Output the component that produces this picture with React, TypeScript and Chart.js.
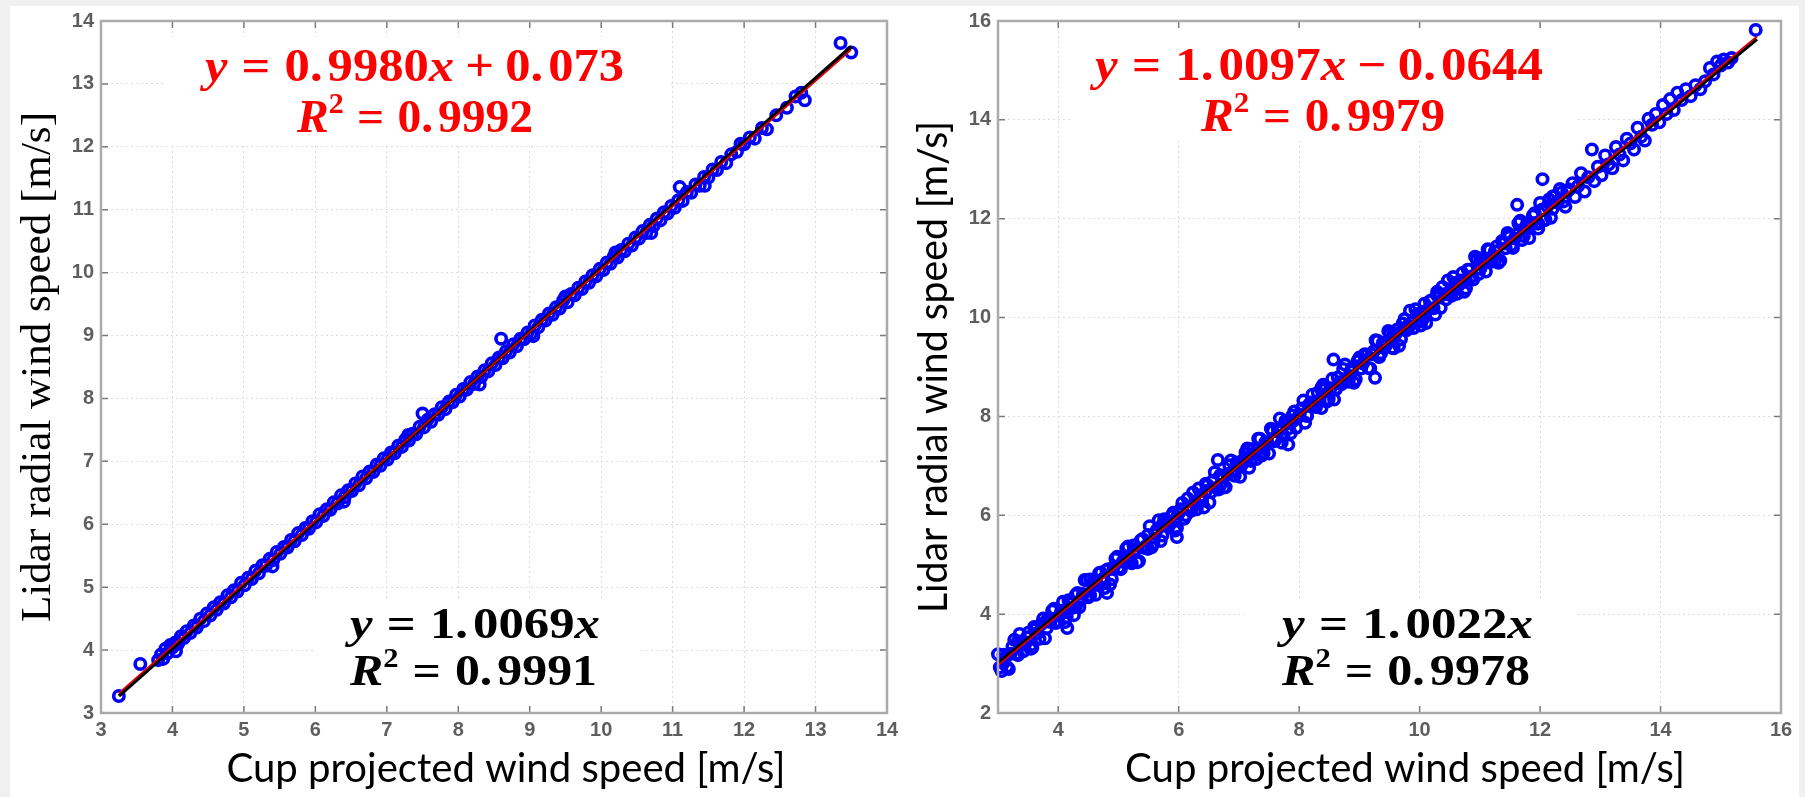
import React, { useEffect, useRef } from "react";
import { Chart, registerables } from "chart.js";

Chart.register(...registerables);

type Pair = [number, number];

// Cup projected speed (x) against lidar radial speed (y), first campaign
const leftSamples: Pair[] = [
  [3.25, 3.27], [3.55, 3.78], [3.80, 3.84], [3.84, 3.93], [3.87, 3.86], [3.90, 4.02], [3.93, 3.95], [3.97, 4.08],
  [4.00, 4.04], [4.04, 4.12], [4.05, 3.98], [4.08, 4.10], [4.12, 4.22], [4.16, 4.19], [4.20, 4.30], [4.25, 4.27],
  [4.30, 4.39], [4.34, 4.36], [4.39, 4.50], [4.44, 4.46], [4.48, 4.58], [4.53, 4.55], [4.58, 4.68], [4.62, 4.64],
  [4.67, 4.76], [4.72, 4.74], [4.77, 4.87], [4.82, 4.84], [4.86, 4.95], [4.91, 4.93], [4.96, 5.07], [5.01, 5.03],
  [5.06, 5.15], [5.11, 5.13], [5.16, 5.26], [5.21, 5.22], [5.26, 5.35], [5.31, 5.34], [5.36, 5.45], [5.40, 5.33],
  [5.41, 5.43], [5.46, 5.56], [5.51, 5.53], [5.56, 5.64], [5.61, 5.63], [5.66, 5.75], [5.71, 5.73], [5.76, 5.86],
  [5.81, 5.83], [5.86, 5.94], [5.91, 5.93], [5.96, 6.05], [6.01, 6.03], [6.06, 6.16], [6.11, 6.13], [6.16, 6.24],
  [6.21, 6.23], [6.26, 6.35], [6.31, 6.33], [6.36, 6.46], [6.40, 6.36], [6.41, 6.43], [6.46, 6.54], [6.51, 6.53],
  [6.56, 6.65], [6.61, 6.62], [6.66, 6.76], [6.71, 6.73], [6.76, 6.84], [6.81, 6.83], [6.86, 6.95], [6.91, 6.93],
  [6.96, 7.05], [7.01, 7.03], [7.06, 7.14], [7.11, 7.13], [7.16, 7.25], [7.21, 7.23], [7.26, 7.35], [7.30, 7.42],
  [7.31, 7.33], [7.36, 7.44], [7.41, 7.43], [7.46, 7.55], [7.50, 7.76], [7.52, 7.54], [7.57, 7.66], [7.62, 7.63],
  [7.67, 7.75], [7.72, 7.74], [7.77, 7.86], [7.82, 7.83], [7.87, 7.95], [7.92, 7.94], [7.97, 8.06], [8.02, 8.03],
  [8.07, 8.15], [8.12, 8.14], [8.17, 8.26], [8.22, 8.23], [8.27, 8.35], [8.30, 8.22], [8.32, 8.34], [8.37, 8.45],
  [8.42, 8.43], [8.47, 8.56], [8.52, 8.53], [8.57, 8.65], [8.60, 8.95], [8.62, 8.64], [8.67, 8.75], [8.72, 8.73],
  [8.77, 8.86], [8.82, 8.83], [8.87, 8.95], [8.92, 8.94], [8.97, 9.05], [9.02, 9.03], [9.05, 8.99], [9.07, 9.16],
  [9.12, 9.13], [9.17, 9.25], [9.22, 9.24], [9.27, 9.35], [9.32, 9.33], [9.37, 9.45], [9.42, 9.43], [9.47, 9.56],
  [9.50, 9.62], [9.53, 9.53], [9.58, 9.66], [9.63, 9.64], [9.68, 9.76], [9.73, 9.74], [9.78, 9.86], [9.83, 9.84],
  [9.88, 9.96], [9.93, 9.94], [9.98, 10.06], [10.03, 10.04], [10.08, 10.16], [10.13, 10.14], [10.18, 10.26],
  [10.20, 10.32], [10.23, 10.24], [10.28, 10.36], [10.33, 10.34], [10.38, 10.46], [10.43, 10.43], [10.48, 10.56],
  [10.53, 10.54], [10.58, 10.66], [10.63, 10.63], [10.68, 10.76], [10.70, 10.63], [10.73, 10.74], [10.78, 10.86],
  [10.83, 10.83], [10.88, 10.96], [10.93, 10.94], [10.98, 11.06], [11.03, 11.03], [11.08, 11.15], [11.10, 11.36],
  [11.14, 11.14], [11.20, 11.28], [11.26, 11.27], [11.32, 11.40], [11.38, 11.38], [11.44, 11.52], [11.45, 11.38],
  [11.50, 11.51], [11.56, 11.64], [11.62, 11.63], [11.68, 11.76], [11.75, 11.74], [11.82, 11.88], [11.90, 11.92],
  [11.95, 12.05], [12.00, 12.04], [12.08, 12.15], [12.15, 12.13], [12.25, 12.30], [12.32, 12.28], [12.45, 12.50],
  [12.60, 12.62], [12.72, 12.80], [12.80, 12.86], [12.85, 12.74], [13.35, 13.65], [13.50, 13.50],
];

// Second campaign, wider spread and a longer high-speed tail
const rightSamples: Pair[] = [
  [3.00, 3.19], [3.06, 2.85], [3.09, 3.01], [3.12, 3.12], [3.18, 2.89], [3.24, 3.34], [3.30, 3.20], [3.33, 3.45],
  [3.36, 3.60], [3.42, 3.25], [3.48, 3.53], [3.54, 3.30], [3.57, 3.38], [3.60, 3.74], [3.66, 3.62], [3.72, 3.80],
  [3.78, 3.51], [3.81, 3.87], [3.84, 3.86], [3.90, 4.07], [3.96, 3.82], [4.02, 3.97], [4.05, 4.03], [4.08, 4.25],
  [4.14, 3.94], [4.15, 3.72], [4.20, 4.21], [4.26, 3.98], [4.29, 4.15], [4.32, 4.43], [4.38, 4.29], [4.44, 4.69],
  [4.50, 4.34], [4.53, 4.70], [4.56, 4.62], [4.62, 4.39], [4.68, 4.83], [4.74, 4.71], [4.77, 4.67], [4.80, 4.89],
  [4.81, 4.43], [4.86, 4.60], [4.92, 4.95], [4.98, 5.16], [5.01, 4.94], [5.04, 4.91], [5.10, 5.06], [5.16, 5.37],
  [5.22, 5.03], [5.25, 5.39], [5.28, 5.30], [5.34, 5.07], [5.40, 5.52], [5.46, 5.38], [5.49, 5.32], [5.52, 5.78],
  [5.58, 5.43], [5.64, 5.71], [5.70, 5.48], [5.73, 5.81], [5.76, 5.92], [5.82, 5.80], [5.88, 5.98], [5.94, 5.69],
  [5.97, 5.96], [5.97, 5.56], [6.00, 6.04], [6.06, 6.25], [6.12, 6.00], [6.18, 6.15], [6.21, 6.09], [6.24, 6.46],
  [6.30, 6.12], [6.36, 6.39], [6.42, 6.16], [6.45, 6.64], [6.48, 6.61], [6.54, 6.47], [6.60, 6.87], [6.65, 7.12],
  [6.66, 6.52], [6.69, 6.61], [6.72, 6.80], [6.78, 6.57], [6.84, 7.01], [6.90, 6.89], [6.93, 6.88], [6.96, 7.07],
  [7.02, 6.78], [7.08, 7.13], [7.14, 7.35], [7.17, 7.33], [7.20, 7.10], [7.26, 7.24], [7.32, 7.55], [7.38, 7.21],
  [7.41, 7.26], [7.44, 7.48], [7.50, 7.25], [7.56, 7.70], [7.62, 7.56], [7.65, 7.75], [7.68, 7.96], [7.74, 7.61],
  [7.80, 7.89], [7.82, 7.43], [7.86, 7.66], [7.89, 7.90], [7.92, 8.10], [7.98, 7.98], [8.04, 8.16], [8.10, 7.87],
  [8.13, 8.02], [8.16, 8.23], [8.22, 8.44], [8.28, 8.19], [8.34, 8.33], [8.37, 8.58], [8.40, 8.64], [8.46, 8.30],
  [8.52, 8.57], [8.57, 9.15], [8.58, 8.34], [8.61, 8.55], [8.64, 8.79], [8.70, 8.65], [8.76, 9.05], [8.82, 8.70],
  [8.85, 8.82], [8.88, 8.98], [8.94, 8.75], [9.00, 9.19], [9.06, 9.07], [9.09, 9.26], [9.12, 9.25], [9.18, 8.97],
  [9.24, 9.32], [9.26, 8.78], [9.30, 9.53], [9.33, 9.20], [9.36, 9.28], [9.42, 9.42], [9.48, 9.73], [9.54, 9.39],
  [9.57, 9.69], [9.60, 9.66], [9.66, 9.43], [9.72, 9.88], [9.78, 9.74], [9.81, 9.84], [9.84, 10.14], [9.90, 9.79],
  [9.96, 10.07], [10.02, 9.84], [10.05, 9.96], [10.08, 10.28], [10.14, 10.16], [10.20, 10.35], [10.26, 10.06],
  [10.29, 10.52], [10.32, 10.41], [10.38, 10.62], [10.44, 10.37], [10.50, 10.51], [10.53, 10.49], [10.56, 10.82],
  [10.62, 10.48], [10.68, 10.75], [10.74, 10.52], [10.77, 10.76], [10.80, 10.97], [10.86, 10.83], [10.92, 11.23],
  [10.98, 10.88], [11.01, 11.20], [11.04, 11.16], [11.10, 10.93], [11.16, 11.37], [11.22, 11.25], [11.25, 11.14],
  [11.28, 11.44], [11.34, 11.15], [11.40, 11.50], [11.46, 11.71], [11.49, 11.63], [11.52, 11.46], [11.58, 11.60],
  [11.62, 12.28], [11.64, 11.91], [11.70, 11.57], [11.73, 11.78], [11.76, 11.84], [11.82, 11.61], [11.88, 12.06],
  [11.94, 11.92], [11.97, 11.90], [12.00, 12.32], [12.04, 12.80], [12.06, 11.97], [12.12, 12.25], [12.18, 12.02],
  [12.21, 12.45], [12.24, 12.46], [12.30, 12.35], [12.36, 12.53], [12.42, 12.24], [12.48, 12.59], [12.54, 12.72],
  [12.58, 12.44], [12.63, 12.66], [12.68, 12.92], [12.74, 12.55], [12.80, 12.84], [12.86, 13.40], [12.90, 12.76],
  [12.96, 13.05], [13.02, 12.88], [13.08, 13.28], [13.14, 13.10], [13.20, 13.02], [13.26, 13.45], [13.32, 13.30],
  [13.38, 13.18], [13.44, 13.62], [13.50, 13.52], [13.56, 13.40], [13.62, 13.84], [13.68, 13.66], [13.74, 13.58],
  [13.80, 14.02], [13.86, 13.90], [13.92, 14.12], [13.98, 13.95], [14.04, 14.30], [14.10, 14.12], [14.16, 14.42],
  [14.22, 14.20], [14.28, 14.55], [14.35, 14.40], [14.42, 14.62], [14.50, 14.48], [14.58, 14.70], [14.66, 14.62],
  [14.74, 14.78], [14.82, 15.05], [14.88, 14.92], [14.94, 15.18], [15.00, 15.10], [15.05, 15.22], [15.12, 15.16],
  [15.18, 15.25], [15.58, 15.82],
  [3.03, 2.92], [3.09, 3.18], [3.15, 2.93], [3.21, 3.20], [3.27, 3.48], [3.33, 3.17], [3.39, 3.43], [3.45, 3.39],
  [3.51, 3.63], [3.57, 3.32], [3.63, 3.70], [3.69, 3.50], [3.75, 3.91], [3.81, 3.72], [3.87, 3.84], [3.93, 4.11],
  [3.99, 3.86], [4.05, 4.07], [4.11, 3.84], [4.17, 4.28], [4.23, 4.13], [4.29, 4.39], [4.35, 4.14], [4.41, 4.41],
  [4.47, 4.69], [4.53, 4.38], [4.59, 4.64], [4.65, 4.60], [4.71, 4.84], [4.77, 4.53], [4.83, 4.91], [4.89, 4.71],
  [4.95, 5.12], [5.01, 4.93], [5.07, 5.06], [5.13, 5.33], [5.19, 5.08], [5.25, 5.28], [5.31, 5.05], [5.37, 5.49],
  [5.43, 5.34], [5.49, 5.60], [5.55, 5.35], [5.61, 5.62], [5.67, 5.90], [5.73, 5.59], [5.79, 5.85], [5.85, 5.81],
  [5.91, 6.05], [5.97, 5.74], [6.03, 6.12], [6.09, 5.93], [6.15, 6.34], [6.21, 6.15], [6.27, 6.27], [6.33, 6.54],
  [6.39, 6.29], [6.45, 6.49], [6.51, 6.26], [6.57, 6.70], [6.63, 6.55], [6.69, 6.81], [6.75, 6.56], [6.81, 6.83],
  [6.87, 7.11], [6.93, 6.80], [6.99, 7.06], [7.05, 7.02], [7.11, 7.27], [7.17, 6.96], [7.23, 7.34], [7.29, 7.14],
  [7.35, 7.55], [7.41, 7.36], [7.47, 7.48], [7.53, 7.75], [7.59, 7.50], [7.65, 7.70], [7.71, 7.47], [7.77, 7.91],
  [7.83, 7.76], [7.89, 8.02], [7.95, 7.77], [8.01, 8.04], [8.07, 8.32], [8.13, 8.01], [8.19, 8.28], [8.25, 8.24],
  [8.31, 8.48], [8.37, 8.17], [8.43, 8.55], [8.49, 8.35], [8.55, 8.76], [8.61, 8.57], [8.67, 8.69], [8.73, 8.96],
  [8.79, 8.71], [8.85, 8.91], [8.91, 8.68], [8.97, 9.12], [9.03, 8.97], [9.09, 9.23], [9.15, 8.98], [9.21, 9.26],
  [9.27, 9.54], [9.33, 9.23], [9.39, 9.49], [9.45, 9.45], [9.51, 9.69], [9.57, 9.38], [9.63, 9.76], [9.69, 9.56],
  [9.75, 9.97], [9.81, 9.78], [9.87, 9.90], [9.93, 10.17], [9.99, 9.92], [10.05, 10.12], [10.11, 9.89], [10.17, 10.33],
  [10.23, 10.19], [10.29, 10.45], [10.35, 10.20], [10.41, 10.47], [10.47, 10.75], [10.53, 10.44], [10.59, 10.70],
  [10.65, 10.66], [10.71, 10.90], [10.77, 10.59], [10.83, 10.97], [10.89, 10.77], [10.95, 11.18], [11.01, 10.99],
  [11.07, 11.11], [11.13, 11.38], [11.19, 11.13], [11.25, 11.34], [11.31, 11.11], [11.37, 11.55], [11.43, 11.40],
  [11.49, 11.66], [11.55, 11.41], [11.61, 11.68], [11.67, 11.96], [11.73, 11.65], [11.79, 11.91], [11.85, 11.87],
  [11.91, 12.11], [11.97, 11.80], [12.03, 12.18], [12.09, 11.98], [12.15, 12.39], [12.21, 12.20], [12.27, 12.33],
  [12.33, 12.60], [12.39, 12.35], [12.45, 12.55],
];

const leftXTicks = [3, 4, 5, 6, 7, 8, 9, 10, 11, 12, 13, 14];
const leftYTicks = [3, 4, 5, 6, 7, 8, 9, 10, 11, 12, 13, 14];
const rightXTicks = [4, 6, 8, 10, 12, 14, 16];
const rightYTicks = [2, 4, 6, 8, 10, 12, 14, 16];

// Regression results: free linear fit and fit through the origin
const leftFit = { slope: 0.998, intercept: 0.073, interceptDigits: 3, r2: 0.9992 };
const leftOriginFit = { slope: 1.0069, r2: 0.9991 };
const rightFit = { slope: 1.0097, intercept: -0.0644, interceptDigits: 4, r2: 0.9979 };
const rightOriginFit = { slope: 1.0022, r2: 0.9978 };

const leftFitSpan: Pair = [3.25, 13.5];
const rightFitSpan: Pair = [3.0, 15.6];

const X_TITLE = "Cup projected wind speed [m/s]";
const Y_TITLE = "Lidar radial wind speed [m/s]";

type Run = { text?: string; italic?: boolean; sup?: boolean; gap?: number };
type Line = [number, number, number]; // left, right, baseline (page px)

interface TextBlock {
  lines: [Line, Line];
  box: [number, number, number, number];
  size: number;
  color: string;
}

interface Panel {
  samples: Pair[];
  xRange: Pair;
  yRange: Pair;
  xTicks: number[];
  yTicks: number[];
  fit: { slope: number; intercept: number; interceptDigits: number; r2: number };
  originFit: { slope: number; r2: number };
  span: Pair;
  canvasLeft: number;
  width: number;
  height: number;
  area: { left: number; top: number; right: number; bottom: number };
  yTitle: { font: string; baselineX: number; length: number };
  xTitle: { font: string; centerX: number; baselineY: number; width: number };
  fitText: TextBlock;
  originText: TextBlock;
}

const PAGE_H = 797;
const EQ_FONT = '"Liberation Serif", "Times New Roman", serif';

const panels: Panel[] = [
  {
    samples: leftSamples,
    xRange: [3, 14],
    yRange: [3, 14],
    xTicks: leftXTicks,
    yTicks: leftYTicks,
    fit: leftFit,
    originFit: leftOriginFit,
    span: leftFitSpan,
    canvasLeft: 0,
    width: 930,
    height: PAGE_H,
    area: { left: 101, top: 21, right: 887, bottom: 713 },
    yTitle: { font: '43px "Liberation Serif", serif', baselineX: 50, length: 510 },
    xTitle: { font: "40px Lato, sans-serif", centerX: 506, baselineY: 782, width: 559 },
    fitText: { lines: [[205, 624, 81], [297, 533, 132]], box: [163, 37, 670, 143], size: 46, color: "#ff0000" },
    originText: { lines: [[350, 600, 638], [350, 597, 685]], box: [313, 598, 640, 705], size: 44, color: "#000000" },
  },
  {
    samples: rightSamples,
    xRange: [3, 16],
    yRange: [2, 16],
    xTicks: rightXTicks,
    yTicks: rightYTicks,
    fit: rightFit,
    originFit: rightOriginFit,
    span: rightFitSpan,
    canvasLeft: 890,
    width: 915,
    height: PAGE_H,
    area: { left: 998, top: 21, right: 1781, bottom: 713 },
    yTitle: { font: "40px Lato, sans-serif", baselineX: 947, length: 492 },
    xTitle: { font: "40px Lato, sans-serif", centerX: 1405, baselineY: 782, width: 560 },
    fitText: { lines: [[1095, 1543, 80], [1201, 1445, 131]], box: [1070, 30, 1575, 140], size: 46, color: "#ff0000" },
    originText: { lines: [[1282, 1533, 638], [1282, 1530, 685]], box: [1244, 598, 1575, 705], size: 44, color: "#000000" },
  },
];

function numberRuns(s: string): Run[] {
  const [a, b] = s.split(".");
  return b === undefined ? [{ text: a }] : [{ text: a + "." }, { gap: 0.1 }, { text: b }];
}

function fitRuns(fit: Panel["fit"]): Run[] {
  const sign = fit.intercept < 0 ? "\u2212" : "+";
  return [
    { text: "y", italic: true }, { gap: 0.28 }, { text: "=" }, { gap: 0.28 },
    ...numberRuns(fit.slope.toFixed(4)), { text: "x", italic: true },
    { gap: 0.22 }, { text: sign }, { gap: 0.22 },
    ...numberRuns(Math.abs(fit.intercept).toFixed(fit.interceptDigits)),
  ];
}

function originRuns(slope: number): Run[] {
  return [
    { text: "y", italic: true }, { gap: 0.28 }, { text: "=" }, { gap: 0.28 },
    ...numberRuns(slope.toFixed(4)), { text: "x", italic: true },
  ];
}

function r2Runs(r2: number): Run[] {
  return [
    { text: "R", italic: true }, { text: "2", sup: true }, { gap: 0.28 }, { text: "=" }, { gap: 0.28 },
    ...numberRuns(r2.toFixed(4)),
  ];
}

function drawRuns(ctx: CanvasRenderingContext2D, runs: Run[], line: Line, offsetX: number, size: number, color: string) {
  const [left, right, baseline] = line;
  const fontFor = (r: Run) =>
    `${r.italic ? "italic " : ""}bold ${r.sup ? Math.round(size * 0.62) : size}px ${EQ_FONT}`;
  const widths = runs.map((r) => {
    if (r.gap !== undefined) return r.gap * size;
    ctx.font = fontFor(r);
    return ctx.measureText(r.text || "").width;
  });
  const total = widths.reduce((s, w) => s + w, 0);
  const sx = (right - left) / total;
  ctx.save();
  ctx.translate(left - offsetX, baseline);
  ctx.scale(sx, 1);
  ctx.fillStyle = color;
  ctx.textAlign = "left";
  ctx.textBaseline = "alphabetic";
  let x = 0;
  runs.forEach((r, i) => {
    if (r.text) {
      ctx.font = fontFor(r);
      ctx.fillText(r.text, x, r.sup ? -size * 0.42 : 0);
    }
    x += widths[i];
  });
  ctx.restore();
}

function drawStretchedText(
  ctx: CanvasRenderingContext2D, text: string, font: string,
  x: number, y: number, rotation: number, length: number,
) {
  ctx.save();
  ctx.font = font;
  const k = length / ctx.measureText(text).width;
  ctx.translate(x, y);
  ctx.rotate(rotation);
  ctx.scale(k, 1);
  ctx.fillStyle = "#000";
  ctx.textAlign = "center";
  ctx.textBaseline = "alphabetic";
  ctx.fillText(text, 0, 0);
  ctx.restore();
}

function decorPlugin(p: Panel) {
  const ox = p.canvasLeft;
  return {
    id: "panelDecor",
    beforeDatasetsDraw(chart: any) {
      const ctx: CanvasRenderingContext2D = chart.ctx;
      ctx.save();
      ctx.fillStyle = "#ffffff";
      for (const b of [p.fitText.box, p.originText.box]) {
        ctx.fillRect(b[0] - ox, b[1], b[2] - b[0], b[3] - b[1]);
      }
      ctx.restore();
    },
    afterDatasetsDraw(chart: any) {
      const ctx: CanvasRenderingContext2D = chart.ctx;
      const { left, right, top, bottom } = chart.chartArea;
      const xs = chart.scales.x;
      const ys = chart.scales.y;
      ctx.save();
      ctx.strokeStyle = "#7a7a7a";
      ctx.lineWidth = 1.5;
      const tick = 7;
      ctx.beginPath();
      for (const v of p.xTicks) {
        const px = xs.getPixelForValue(v);
        ctx.moveTo(px, bottom); ctx.lineTo(px, bottom - tick);
        ctx.moveTo(px, top); ctx.lineTo(px, top + tick);
      }
      for (const v of p.yTicks) {
        const py = ys.getPixelForValue(v);
        ctx.moveTo(left, py); ctx.lineTo(left + tick, py);
        ctx.moveTo(right, py); ctx.lineTo(right - tick, py);
      }
      ctx.stroke();
      ctx.strokeStyle = "#ababab";
      ctx.lineWidth = 2.5;
      ctx.strokeRect(left, top, right - left, bottom - top);
      ctx.restore();
    },
    afterDraw(chart: any) {
      const ctx: CanvasRenderingContext2D = chart.ctx;
      const ft = p.fitText;
      drawRuns(ctx, fitRuns(p.fit), ft.lines[0], ox, ft.size, ft.color);
      drawRuns(ctx, r2Runs(p.fit.r2), ft.lines[1], ox, ft.size, ft.color);
      const ot = p.originText;
      drawRuns(ctx, originRuns(p.originFit.slope), ot.lines[0], ox, ot.size, ot.color);
      drawRuns(ctx, r2Runs(p.originFit.r2), ot.lines[1], ox, ot.size, ot.color);

      const midY = (p.area.top + p.area.bottom) / 2;
      drawStretchedText(ctx, Y_TITLE, p.yTitle.font, p.yTitle.baselineX - ox, midY, -Math.PI / 2, p.yTitle.length);
      drawStretchedText(ctx, X_TITLE, p.xTitle.font, p.xTitle.centerX - ox, p.xTitle.baselineY, 0, p.xTitle.width);
    },
  };
}

function buildConfig(p: Panel): any {
  const ox = p.canvasLeft;
  const areaLeft = p.area.left - ox;
  const areaRight = p.area.right - ox;
  const tickFont = { family: '"Liberation Sans", Arial, sans-serif', size: 20, weight: "bold" };
  const grid = { color: "#dcdcdc", lineWidth: 1, drawTicks: false };
  const border = { display: false, dash: [2, 3] };
  return {
    type: "scatter",
    data: {
      datasets: [
        {
          label: "samples",
          data: p.samples.map(([x, y]) => ({ x, y })),
          pointRadius: 5.2,
          pointHoverRadius: 5.2,
          pointBorderWidth: 3.6,
          pointBorderColor: "#0000ff",
          pointBackgroundColor: "rgba(0,0,0,0)",
          showLine: false,
          clip: false,
          order: 3,
        },
        {
          label: "fit through origin",
          data: p.span.map((x) => ({ x, y: p.originFit.slope * x })),
          showLine: true,
          borderColor: "#000000",
          borderWidth: 3.5,
          pointRadius: 0,
          order: 2,
        },
        {
          label: "linear fit",
          data: p.span.map((x) => ({ x, y: p.fit.slope * x + p.fit.intercept })),
          showLine: true,
          borderColor: "#dd0000",
          borderWidth: 1.8,
          pointRadius: 0,
          order: 1,
        },
      ],
    },
    options: {
      responsive: false,
      animation: false,
      events: [],
      layout: { padding: { left: 0, top: p.area.top, right: p.width - areaRight, bottom: 0 } },
      plugins: { legend: { display: false }, tooltip: { enabled: false } },
      scales: {
        x: {
          type: "linear",
          min: p.xRange[0],
          max: p.xRange[1],
          afterBuildTicks: (s: any) => { s.ticks = p.xTicks.map((v) => ({ value: v })); },
          afterFit: (s: any) => { s.height = p.height - p.area.bottom; },
          grid,
          border,
          ticks: { padding: 5, color: "#5e5e5e", font: tickFont, autoSkip: false, maxRotation: 0 },
        },
        y: {
          type: "linear",
          min: p.yRange[0],
          max: p.yRange[1],
          afterBuildTicks: (s: any) => { s.ticks = p.yTicks.map((v) => ({ value: v })); },
          afterFit: (s: any) => { s.width = areaLeft; },
          grid,
          border,
          ticks: { padding: 7, color: "#5e5e5e", font: tickFont, autoSkip: false },
        },
      },
    },
    plugins: [decorPlugin(p)],
  };
}

function PanelChart({ panel }: { panel: Panel }) {
  const ref = useRef<HTMLCanvasElement>(null);
  useEffect(() => {
    if (!ref.current) return;
    const chart = new Chart(ref.current, buildConfig(panel));
    return () => chart.destroy();
  }, [panel]);
  return (
    <canvas
      ref={ref}
      width={panel.width}
      height={panel.height}
      style={{ position: "absolute", left: panel.canvasLeft, top: 0, width: panel.width, height: panel.height }}
    />
  );
}

export default function App() {
  return (
    <div
      style={{
        position: "absolute", left: 0, top: 0, width: 1805, height: PAGE_H,
        background: "#f0f0f0", overflow: "hidden",
      }}
    >
      <div style={{ position: "absolute", left: 10, top: 6, width: 1789, height: PAGE_H - 6, background: "#ffffff" }} />
      {panels.map((p, i) => (
        <PanelChart key={i} panel={p} />
      ))}
    </div>
  );
}
